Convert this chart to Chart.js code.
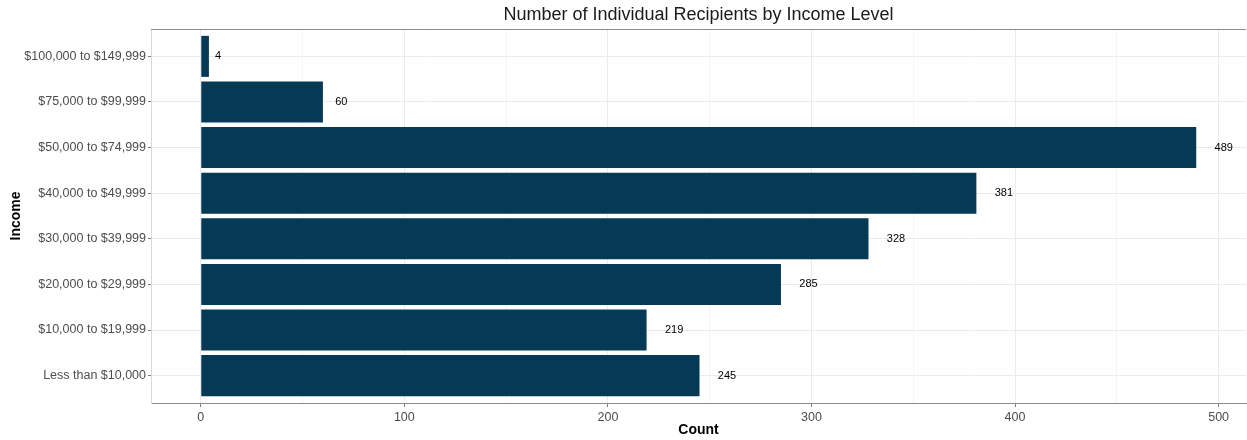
<!DOCTYPE html>
<html>
<head>
<meta charset="utf-8">
<script src="https://cdn.jsdelivr.net/npm/chart.js@4"></script>
<style>
   html, body { margin: 0; padding: 0; background: #fff; }
   #wrap { width: 1247px; height: 440px; }
</style>
</head>
<body>
<div id="wrap"><canvas id="canvas-1"></canvas></div>
<script>
const incomeLevels = [
   "Less than $10,000",
   "$10,000 to $19,999",
   "$20,000 to $29,999",
   "$30,000 to $39,999",
   "$40,000 to $49,999",
   "$50,000 to $74,999",
   "$75,000 to $99,999",
   "$100,000 to $149,999",
];
const counts = [245, 219, 285, 328, 381, 489, 60, 4];
const countTicks = [0, 50, 100, 150, 200, 250, 300, 350, 400, 450, 500];

const FONT = "'Liberation Sans', Arial, sans-serif";

const drawChart = () => {
   const canvas = document.getElementById("canvas-1");
   const ctx = canvas.getContext("2d");

   const points = counts.map((c, i) => ({ x: c, y: i }));

   // title, axis titles, top border and value labels (ggplot hjust = -1)
   const extras = {
      id: "extras",
      afterDatasetsDraw(chart) {
         const { ctx, chartArea, scales } = chart;
         ctx.save();
         ctx.strokeStyle = "#8c8c8c";
         ctx.lineWidth = 1;
         ctx.beginPath();
         ctx.moveTo(chartArea.left, chartArea.top + 0.5);
         ctx.lineTo(chartArea.right, chartArea.top + 0.5);
         ctx.stroke();

         ctx.font = "11px " + FONT;
         ctx.fillStyle = "#000";
         ctx.textAlign = "left";
         ctx.textBaseline = "middle";
         points.forEach((p) => {
            const label = String(p.x);
            const w = ctx.measureText(label).width;
            ctx.fillText(label, scales.x.getPixelForValue(p.x) + w, scales.y.getPixelForValue(p.y));
         });

         ctx.textAlign = "center";
         ctx.font = "18px " + FONT;
         ctx.fillStyle = "#1a1a1a";
         ctx.fillText("Number of Individual Recipients by Income Level", (chartArea.left + chartArea.right) / 2, 15);

         ctx.font = "bold 14px " + FONT;
         ctx.fillStyle = "#000";
         ctx.fillText("Count", (chartArea.left + chartArea.right) / 2, 430);

         ctx.translate(16, (chartArea.top + chartArea.bottom) / 2);
         ctx.rotate(-Math.PI / 2);
         ctx.fillText("Income", 0, 0);
         ctx.restore();
      },
   };

   new Chart(ctx, {
      type: "bar",
      data: {
         datasets: [
            {
               data: points,
               backgroundColor: "#053a56",
               borderWidth: 0,
               barPercentage: 0.9,
               categoryPercentage: 1,
            },
         ],
      },
      plugins: [extras],
      options: {
         indexAxis: "y",
         responsive: true,
         maintainAspectRatio: false,
         animation: false,
         layout: {
            padding: { top: 29, right: 1, left: 0, bottom: 0 },
         },
         plugins: {
            legend: { display: false },
            tooltip: { enabled: false },
         },
         scales: {
            x: {
               type: "linear",
               bounds: "data",
               min: -24.45,
               max: 513.45,
               afterBuildTicks: (scale) => {
                  scale.ticks = countTicks.map((v) => ({ value: v }));
               },
               afterFit: (scale) => {
                  scale.height = 37;
               },
               grid: {
                  color: (c) => (c.tick && c.tick.value % 100 === 0 ? "#ebebeb" : "#f5f5f5"),
                  tickColor: (c) => (c.tick && c.tick.value % 100 === 0 ? "#7f7f7f" : "rgba(0,0,0,0)"),
                  tickLength: 4,
               },
               border: { display: true, color: "#8c8c8c" },
               ticks: {
                  autoSkip: false,
                  maxRotation: 0,
                  padding: 3,
                  color: "#4d4d4d",
                  font: { family: FONT, size: 12.5 },
                  callback: (v) => (v % 100 === 0 ? String(v) : ""),
               },
            },
            y: {
               type: "linear",
               bounds: "data",
               offset: false,
               min: -0.6,
               max: incomeLevels.length - 0.4,
               afterBuildTicks: (scale) => {
                  scale.ticks = incomeLevels.map((_, i) => ({ value: i }));
               },
               afterFit: (scale) => {
                  scale.width = 151;
               },
               grid: {
                  offset: false,
                  color: "#ebebeb",
                  tickColor: "#7f7f7f",
                  tickLength: 3,
               },
               border: { display: true, color: "#d9d9d9" },
               ticks: {
                  autoSkip: false,
                  padding: 2,
                  color: "#4d4d4d",
                  font: { family: FONT, size: 12.5 },
                  callback: (v) => incomeLevels[v],
               },
            },
         },
      },
   });
};

drawChart();
</script>
</body>
</html>
